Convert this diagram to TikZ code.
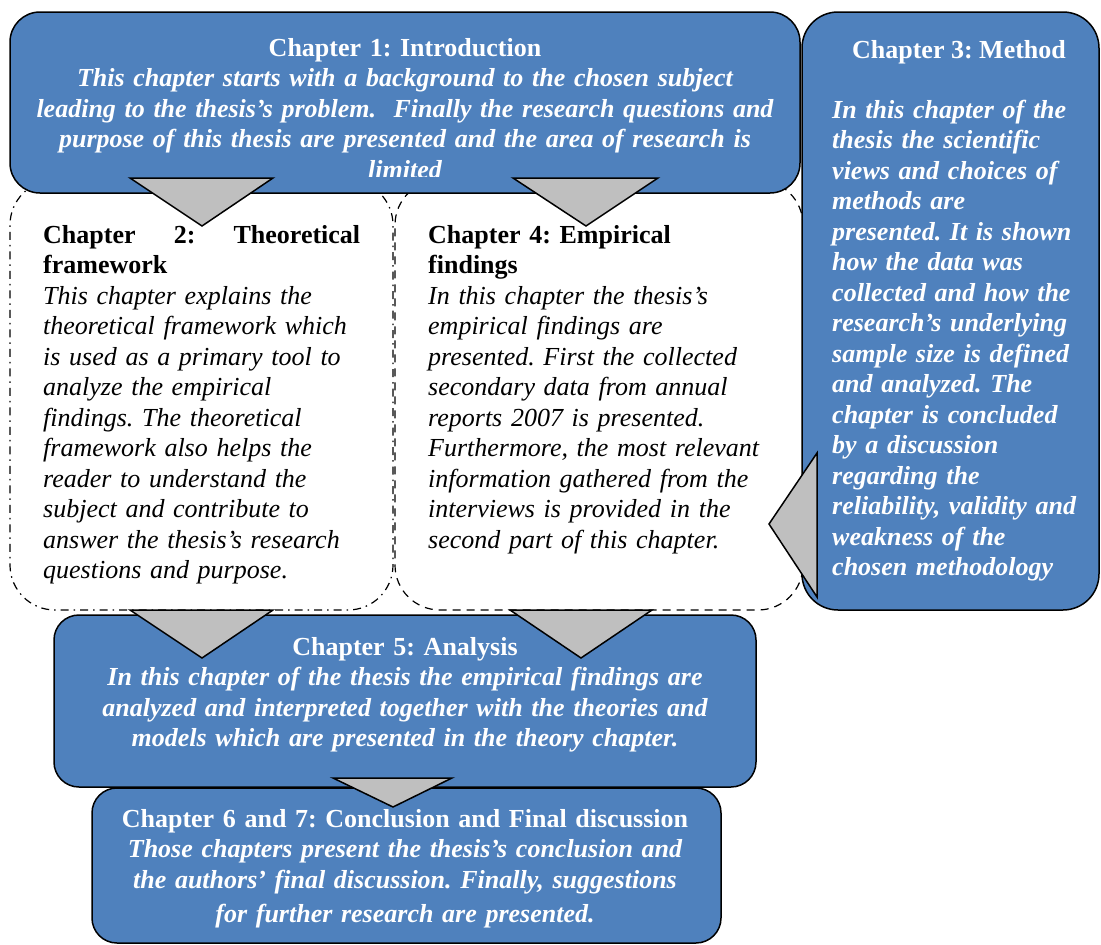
\documentclass[tikz,border=0pt]{standalone}
\usepackage{fontspec}
\setmainfont{Liberation Serif}
\frenchspacing
\definecolor{chapblue}{HTML}{4F81BD}
\definecolor{arrgray}{HTML}{BFBFBF}
\newcommand\chapfont{\fontsize{26}{30.5}\selectfont}
\tikzset{
    BX1/.style ={rectangle, draw, line width=1.5pt, fill=chapblue, rounded corners=#1},
    BX1/.default=30pt,
    BX2/.style ={rectangle, draw, line width=1.2pt, rounded corners=45pt,
                 dash pattern=on 8pt off 5pt on 1.5pt off 5pt},
    BX3/.style ={rectangle, draw, line width=1.2pt, rounded corners=45pt,
                 dash pattern=on 8pt off 6pt},
    TX1/.style ={text=white, font=\chapfont\bfseries\itshape, inner sep=0pt},
    TX2/.style ={text=black, font=\chapfont\itshape, inner sep=0pt},
    TRI/.style ={draw, line width=1.5pt, fill=arrgray, line join=miter}}
\begin{document}
\begin{tikzpicture}[x=1pt,y=-1pt]
        \useasboundingbox (0,0) rectangle (1101,945);
        % boxes
        \node[BX2] (2) at (201.5,395) [minimum width=383pt, minimum height=430pt]{};
        \node[BX3] (4) at (599,395) [minimum width=408pt, minimum height=430pt]{};
        \node[BX1] (1) at (405,102.5) [minimum width=790pt, minimum height=181pt]{};
        \node[BX1=36pt] (3) at (950.5,311) [minimum width=297pt, minimum height=598pt]{};
        \node[BX1=25pt] (5) at (405,701) [minimum width=702pt, minimum height=172pt]{};
        \node[BX1=25pt] (6) at (406.5,865.5) [minimum width=629pt, minimum height=155pt]{};
        % texts
        \begin{scope}
            \clip (10,12) rectangle (800,176.5);
            \node[TX1, text width=785pt, align=center, anchor=base] (t1) at (405,56)
                {\textup{Chapter 1: Introduction}\\
                 This chapter starts with a background to the chosen subject\\
                 leading to the thesis’s problem.\ \ Finally the research questions and\\
                 purpose of this thesis are presented and the area of research is\\
                 limited};
        \end{scope}
        \node[TX1, anchor=base] (t3) at (959,58) {\textup{Chapter 3: Method}};
        \node[TX1, text width=265pt, align=left, anchor=base west] (b3) at (832,118)
            {In this chapter of the\\ thesis the scientific\\ views and choices of\\
             methods are\\ presented. It is shown\\ how the data was\\
             collected and how the\\ research’s underlying\\ sample size is defined\\
             and analyzed. The\\ chapter is concluded\\ by a discussion\\
             regarding the\\ reliability, validity and\\ weakness of the\\
             chosen methodology};
        \node[TX2, text width=317pt, align=left, anchor=base west] (t2) at (43,243)
            {\textup{\textbf{Chapter\hfill 2:\hfill Theoretical}}\\
             \textup{\textbf{framework}}};
        \node[TX2, text width=360pt, align=left, anchor=base west] (b2) at (43,304)
            {This chapter explains the\\ theoretical framework which\\
             is used as a primary tool to\\ analyze the empirical\\
             findings. The theoretical\\ framework also helps the\\
             reader to understand the\\ subject and contribute to\\
             answer the thesis’s research\\ questions and purpose.};
        \node[TX2, text width=370pt, align=left, anchor=base west] (t4) at (428,243)
            {\textup{\textbf{Chapter 4: Empirical}}\\ \textup{\textbf{findings}}\\
             In this chapter the thesis’s\\ empirical findings are\\
             presented. First the collected\\ secondary data from annual\\
             reports 2007 is presented.\\ Furthermore, the most relevant\\
             information gathered from the\\ interviews is provided in the\\
             second part of this chapter.};
        \node[TX1, text width=700pt, align=center, anchor=base] (t5) at (405,655)
            {\textup{Chapter 5: Analysis}\\
             In this chapter of the thesis the empirical findings are\\
             analyzed and interpreted together with the theories and\\
             models which are presented in the theory chapter.};
        \node[TX1, text width=620pt, align=center, anchor=base] (t6) at (405,827)
            {\textup{Chapter 6 and 7: Conclusion and Final discussion}\\
             Those chapters present the thesis’s conclusion and\\
             the authors’ final discussion. Finally, suggestions\\[4pt]
             for further research are presented.};
        % arrows
        \draw[TRI] (130,178) -- (273,178) -- (202,226) -- cycle;
        \draw[TRI] (513,178) -- (658,178) -- (586,226) -- cycle;
        \draw[TRI] (130,610) -- (273,610) -- (202,658) -- cycle;
        \draw[TRI] (510,610) -- (652,610) -- (581,658) -- cycle;
        \draw[TRI] (333,778) -- (452,778) -- (393,807) -- cycle;
        \draw[TRI] (817,453) -- (817,597) -- (769,524) -- cycle;
    \end{tikzpicture}
\end{document}
